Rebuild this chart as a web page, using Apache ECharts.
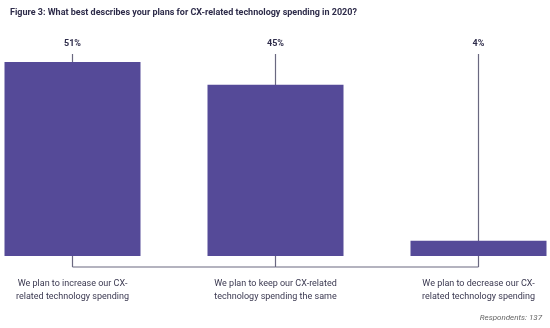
<!DOCTYPE html>
<html>
<head>
<meta charset="utf-8">
<script src="https://cdn.jsdelivr.net/npm/echarts@6/dist/echarts.min.js"></script>
<style>
  html, body { margin: 0; padding: 0; background: #ffffff; }
  #chart { width: 550px; height: 328px; }
</style>
</head>
<body>
<div id="chart"></div>
<script>
// Survey answers and their shares (%)
const categories = [
  'We plan to increase our CX-\nrelated technology spending',
  'We plan to keep our CX-related\ntechnology spending the same',
  'We plan to decrease our CX-\nrelated technology spending'
];
const shares = [51, 45, 4];
const titleText = 'Figure 3: What best describes your plans for CX-related technology spending in 2020?';
const footnote = 'Respondents: 137';

const barColor = '#554a98';
const lineColor = '#6a6880';
const textColor = '#2e2c4a';
const yMax = 51;

const chart = echarts.init(document.getElementById('chart'), null, { renderer: 'canvas' });

chart.setOption({
  animation: false,
  backgroundColor: '#ffffff',
  textStyle: { fontFamily: 'Roboto' },
  title: [
    {
      text: titleText,
      left: 5, top: 3,
      textStyle: { fontSize: 9, fontWeight: 'bold', color: textColor, fontFamily: 'Roboto' }
    },
    {
      text: footnote,
      right: 3, bottom: 1,
      textStyle: { fontSize: 8, fontStyle: 'italic', fontWeight: 'normal', color: '#666666', fontFamily: 'Roboto' }
    }
  ],
  grid: {
    left: -29, width: 609, top: 62, bottom: 72,
    containLabel: false,
    outerBoundsMode: 'none'
  },
  xAxis: {
    type: 'category',
    data: categories,
    axisLine: { show: false },
    axisTick: { show: false },
    axisLabel: {
      margin: 21,
      fontSize: 9,
      lineHeight: 13,
      color: '#3a3850',
      align: 'center',
      fontFamily: 'Roboto'
    }
  },
  yAxis: {
    type: 'value',
    min: 0, max: yMax,
    show: false,
    splitLine: { show: false }
  },
  series: [
    {
      // leader lines from the value labels down to the bracket, plus the labels
      type: 'custom',
      clip: false,
      z: 1,
      data: shares.map((v, i) => [i, v]),
      renderItem: function (params, api) {
        const i = api.value(0);
        const top = api.coord([i, yMax]);
        const base = api.coord([i, 0]);
        const bracketY = base[1] + 11;
        const children = [
          {
            type: 'line',
            shape: { x1: top[0], y1: top[1] - 8, x2: top[0], y2: bracketY },
            style: { stroke: lineColor, lineWidth: 1.2 }
          },
          {
            type: 'text',
            style: {
              text: api.value(1) + '%',
              x: top[0], y: top[1] - 18,
              align: 'center', verticalAlign: 'middle',
              fill: textColor,
              font: 'bold 9px Roboto'
            }
          }
        ];
        if (i < shares.length - 1) {
          const next = api.coord([i + 1, 0]);
          children.push({
            type: 'line',
            shape: { x1: top[0], y1: bracketY, x2: next[0], y2: bracketY },
            style: { stroke: lineColor, lineWidth: 1.2 }
          });
        }
        return { type: 'group', children: children };
      }
    },
    {
      type: 'bar',
      z: 2,
      data: shares,
      barWidth: 136,
      itemStyle: { color: barColor }
    }
  ]
});
</script>
</body>
</html>
